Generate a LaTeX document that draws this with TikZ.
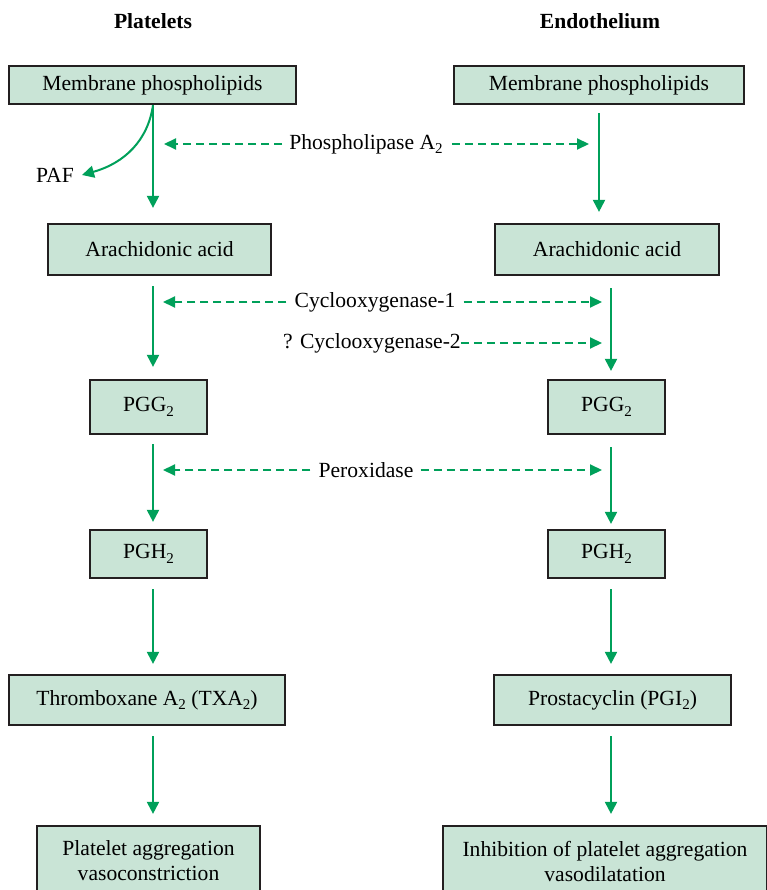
\documentclass[tikz,border=0pt]{standalone}
\usepackage{fontspec}
\setmainfont{Liberation Serif}
\usetikzlibrary{arrows.meta}
\definecolor{pgreen}{RGB}{0,160,90}
\definecolor{pfill}{RGB}{201,228,214}
\definecolor{pline}{RGB}{35,31,32}
\newcommand{\lsub}[1]{\raisebox{-0.45ex}{\fontsize{15}{15}\selectfont #1}}
\tikzset{
  box/.style={draw=pline,line width=2.2pt,fill=pfill,inner sep=0pt,align=center,font=\fontsize{21.6}{26}\selectfont},
  lbl/.style={inner sep=0pt,font=\fontsize{21.6}{26}\selectfont},
  head/.style={inner sep=0pt,font=\bfseries\fontsize{21.6}{26}\selectfont},
  arr/.style={draw=pgreen,line width=2pt,-{Triangle[length=12pt,width=12pt]}},
  darr/.style={draw=pgreen,line width=2pt,dash pattern=on 8pt off 5pt,-{Triangle[length=12pt,width=11pt]}}
}
\begin{document}
\begin{tikzpicture}[x=1pt,y=-1pt]
\useasboundingbox (0,0) rectangle (767,890);
\clip (0,0) rectangle (767,890);
% headers
\node[head] (hl) at (153,21) {Platelets};
\node[head] (hr) at (600,21) {Endothelium};
% left column
\node[box,minimum width=287pt,minimum height=38pt] (lmp) at (152.5,85) {Membrane phospholipids};
\node[box,minimum width=223pt,minimum height=51pt] (laa) at (159.5,249.5) {Arachidonic acid};
\node[box,minimum width=117pt,minimum height=54pt] (lpgg) at (148.5,407) {PGG\lsub{2}};
\node[box,minimum width=117pt,minimum height=48pt] (lpgh) at (148.5,554) {PGH\lsub{2}};
\node[box,minimum width=276pt,minimum height=50pt] (ltx) at (147,700) {Thromboxane A\lsub{2} (TXA\lsub{2})};
\node[box,minimum width=223pt,minimum height=70pt] (lout) at (148.5,861) {Platelet aggregation\\[-1pt]vasoconstriction};
% right column
\node[box,minimum width=290pt,minimum height=38pt] (rmp) at (599,85) {Membrane phospholipids};
\node[box,minimum width=224pt,minimum height=51pt] (raa) at (607,249.5) {Arachidonic acid};
\node[box,minimum width=117pt,minimum height=54pt] (rpgg) at (606.5,407) {PGG\lsub{2}};
\node[box,minimum width=117pt,minimum height=48pt] (rpgh) at (606.5,554) {PGH\lsub{2}};
\node[box,minimum width=237pt,minimum height=50pt] (rpc) at (612.5,700) {Prostacyclin (PGI\lsub{2})};
\node[box,minimum width=324pt,minimum height=70pt] (rout) at (605,861) {Inhibition of platelet aggregation\\[-1pt]vasodilatation};
% column x positions
\coordinate (lx) at (153,0);
\coordinate (rxa) at (599,0);
\coordinate (rx) at (611,0);
% left vertical arrows
\draw[arr,shorten >=15pt] (lmp.south -| lx) -- (laa.north -| lx);
\draw[arr,shorten <=10pt,shorten >=12pt] (laa.south -| lx) -- (lpgg.north -| lx);
\draw[arr,shorten <=9pt,shorten >=7pt] (lpgg.south -| lx) -- (lpgh.north -| lx);
\draw[arr,shorten <=10pt,shorten >=10pt] (lpgh.south -| lx) -- (ltx.north -| lx);
\draw[arr,shorten <=10pt,shorten >=11pt] (ltx.south -| lx) -- (lout.north -| lx);
% right vertical arrows
\draw[arr,shorten <=8pt,shorten >=11pt] (rmp.south -| rxa) -- (raa.north -| rxa);
\draw[arr,shorten <=12pt,shorten >=8pt] (raa.south -| rx) -- (rpgg.north -| rx);
\draw[arr,shorten <=12pt,shorten >=5pt] (rpgg.south -| rx) -- (rpgh.north -| rx);
\draw[arr,shorten <=10pt,shorten >=10pt] (rpgh.south -| rx) -- (rpc.north -| rx);
\draw[arr,shorten <=10pt,shorten >=11pt] (rpc.south -| rx) -- (rout.north -| rx);
% PAF
\node[lbl] (paf) at (55,175) {PAF};
\draw[arr] (lmp.south -| lx) .. controls (148,140) and (125,163) .. ([xshift=8pt]paf.east);
% enzymes
\node[lbl] (pla) at (366,144) {Phospholipase A\lsub{2}};
\coordinate (plaL) at (164,144);
\coordinate (plaR) at (589,144);
\draw[darr,shorten <=7pt] (pla.west) -- (plaL);
\draw[darr,shorten <=9pt] (pla.east) -- (plaR);
\node[lbl] (cox1) at (375,302) {Cyclooxygenase-1};
\coordinate (c1L) at (163,302);
\coordinate (c1R) at (602,302);
\draw[darr,shorten <=8pt] (cox1.west) -- (c1L);
\draw[darr,shorten <=8pt] (cox1.east) -- (c1R);
\node[lbl] (cox2) at (372,343) {? Cyclooxygenase-2};
\coordinate (c2R) at (602,343);
\draw[darr] (cox2.east) -- (c2R);
\node[lbl] (perox) at (366,470) {Peroxidase};
\coordinate (pL) at (163,470);
\coordinate (pR) at (602,470);
\draw[darr,shorten <=8pt] (perox.west) -- (pL);
\draw[darr,shorten <=7pt] (perox.east) -- (pR);
\end{tikzpicture}
\end{document}
